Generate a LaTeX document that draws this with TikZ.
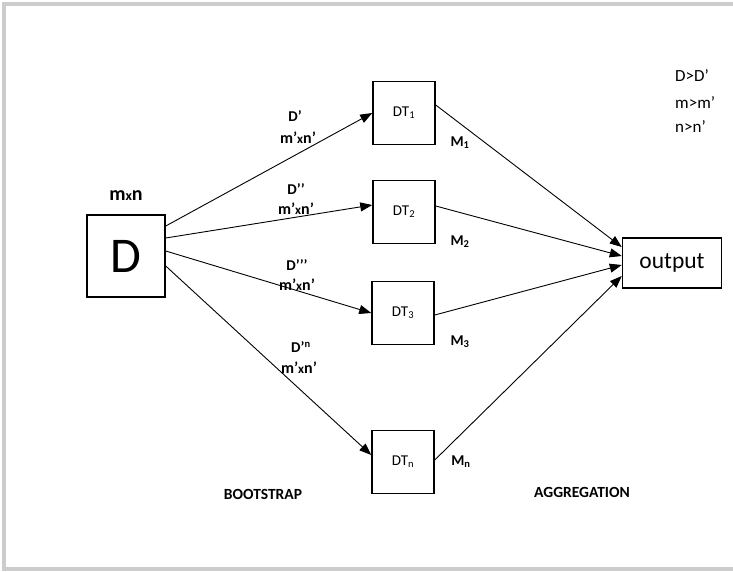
\documentclass[tikz,border=0pt]{standalone}
\usepackage{fontspec}
\setmainfont{Carlito}
\usetikzlibrary{arrows.meta}

\begin{document}
\begin{tikzpicture}[x=1pt,y=-1pt,
    box/.style={draw,line width=1.5pt,minimum width=62pt,minimum height=63pt,inner sep=0pt,font=\fontsize{15}{17}\selectfont},
    arr/.style={line width=0.9pt,-{Triangle[length=12pt,width=9pt]}},
    lbl/.style={inner sep=0pt,font=\bfseries\fontsize{15}{17}\selectfont},
    dim/.style={inner sep=0pt,font=\bfseries\fontsize{16}{18}\selectfont},
    cond/.style={inner sep=0pt,anchor=west,font=\fontsize{17}{19}\selectfont}]
    \useasboundingbox (0,0) rectangle (733,571);
    \draw [line width=3.5pt,black!20] (733,4)--(4,4)--(4,569)--(733,569);
    % data set and trees
    \node[box,minimum width=78pt,minimum height=82pt,font=\fontsize{50}{50}\selectfont] (D) at (126,256) {D};
    \node[lbl,font=\bfseries\fontsize{20}{22}\selectfont] (mn) at (126,196) {m{\fontsize{14}{14}\selectfont x}n};
    \node[box] (DT1) at (404,113) {DT\textsubscript{1}};
    \node[box] (DT2) at (404,212) {DT\textsubscript{2}};
    \node[box] (DT3) at (403,313) {DT\textsubscript{3}};
    \node[box] (DTn) at (403,462) {DT\textsubscript{n}};
    \node[box,minimum width=99pt,minimum height=50pt,font=\fontsize{23.5}{25}\selectfont] (out) at (672,263) {output};
    % bootstrap samples
    \draw[arr] ([yshift=30pt]D.east)--(DT1.west);
    \draw[arr] ([yshift=18pt]D.east)--([yshift=7pt]DT2.west);
    \draw[arr] ([yshift=5pt]D.east)--(DT3.west);
    \draw[arr] ([yshift=-10pt]D.east)--([yshift=7pt]DTn.west);
    \node[lbl] (s1) at (295,116) {D’};
    \node[dim] (d1) at (298,138) {m’{\fontsize{13}{13}\selectfont x}n’};
    \node[lbl] (s2) at (296,189) {D’’};
    \node[dim] (d2) at (296,209) {m’{\fontsize{13}{13}\selectfont x}n’};
    \node[lbl] (s3) at (297,265) {D’’’};
    \node[dim] (d3) at (297,285) {m’{\fontsize{13}{13}\selectfont x}n’};
    \node[lbl] (sn) at (301,347) {D’\textsuperscript{n}};
    \node[dim] (dn) at (299,368) {m’{\fontsize{13}{13}\selectfont x}n’};
    % aggregation
    \draw[arr] ([yshift=8pt]DT1.east)--([yshift=16pt]out.west);
    \draw[arr] ([yshift=6pt]DT2.east)--([yshift=7pt]out.west);
    \draw[arr] ([yshift=-2pt]DT3.east)--([yshift=-2pt]out.west);
    \draw[arr] ([yshift=2pt]DTn.east)--([yshift=-13pt]out.west);
    \node[lbl] (M1) at (460,143) {M\textsubscript{1}};
    \node[lbl] (M2) at (460,242) {M\textsubscript{2}};
    \node[lbl] (M3) at (460,342) {M\textsubscript{3}};
    \node[lbl] (Mn) at (461,462) {M\textsubscript{n}};
    \node[lbl,font=\bfseries\fontsize{15.5}{17}\selectfont] (boot) at (263,494) {BOOTSTRAP};
    \node[lbl,font=\bfseries\fontsize{15.5}{17}\selectfont] (aggr) at (582,492) {AGGREGATION};
    \node[cond] (c1) at (675,76) {D>D’};
    \node[cond] (c2) at (675,103) {m>m’};
    \node[cond] (c3) at (675,127) {n>n’};
\end{tikzpicture}
\end{document}
